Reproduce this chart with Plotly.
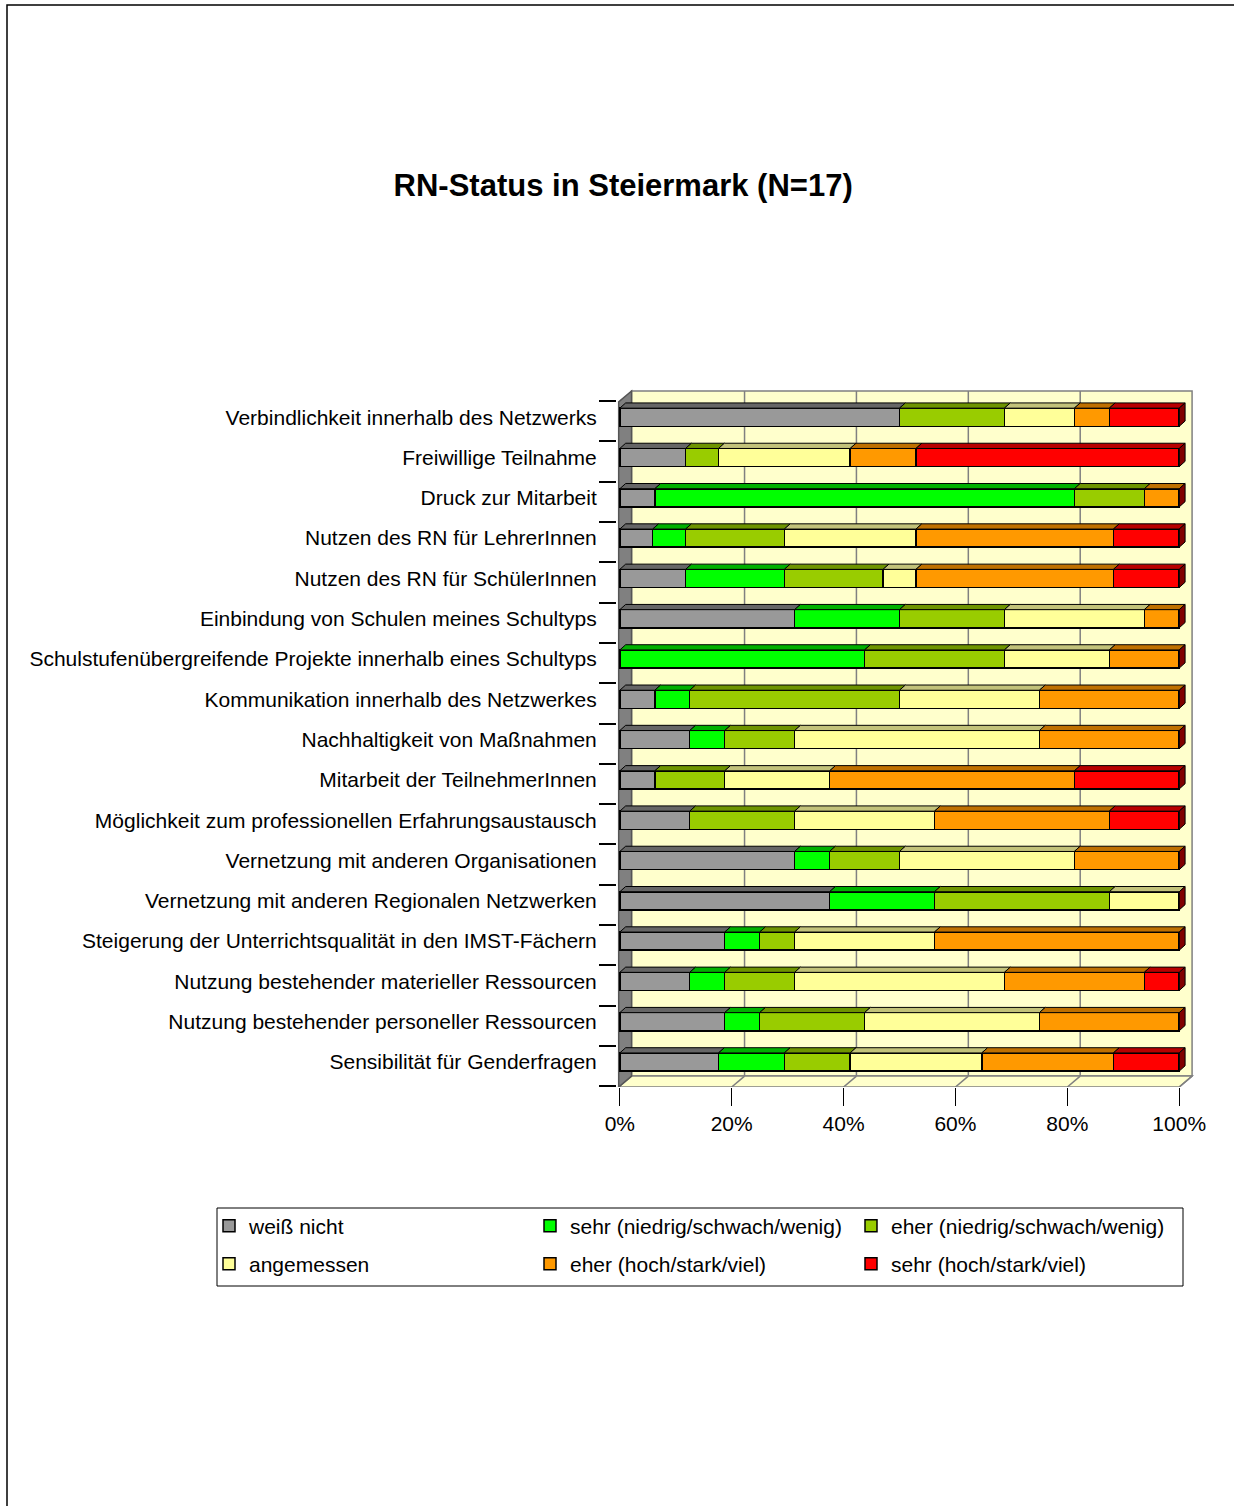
import numpy as np
import plotly.graph_objects as go

# Survey items, listed top to bottom
categories = [
    "Verbindlichkeit innerhalb des Netzwerks",
    "Freiwillige Teilnahme",
    "Druck zur Mitarbeit",
    "Nutzen des RN für LehrerInnen",
    "Nutzen des RN für SchülerInnen",
    "Einbindung von Schulen meines Schultyps",
    "Schulstufenübergreifende Projekte innerhalb eines Schultyps",
    "Kommunikation innerhalb des Netzwerkes",
    "Nachhaltigkeit von Maßnahmen",
    "Mitarbeit der TeilnehmerInnen",
    "Möglichkeit zum professionellen Erfahrungsaustausch",
    "Vernetzung mit anderen Organisationen",
    "Vernetzung mit anderen Regionalen Netzwerken",
    "Steigerung der Unterrichtsqualität in den IMST-Fächern",
    "Nutzung bestehender materieller Ressourcen",
    "Nutzung bestehender personeller Ressourcen",
    "Sensibilität für Genderfragen",
]

series_names = [
    "weiß nicht",
    "sehr (niedrig/schwach/wenig)",
    "eher (niedrig/schwach/wenig)",
    "angemessen",
    "eher (hoch/stark/viel)",
    "sehr (hoch/stark/viel)",
]

# Number of answers per item and category
weiss_nicht  = [8, 2, 1, 1, 2, 5, 0, 1, 2, 1, 2, 5, 6, 3, 2, 3, 3]
sehr_niedrig = [0, 0, 12, 1, 3, 3, 7, 1, 1, 0, 0, 1, 3, 1, 1, 1, 2]
eher_niedrig = [3, 1, 2, 3, 3, 3, 4, 6, 2, 2, 3, 2, 5, 1, 2, 3, 2]
angemessen   = [2, 4, 0, 4, 1, 4, 3, 4, 7, 3, 4, 5, 2, 4, 6, 5, 4]
eher_hoch    = [1, 2, 1, 6, 6, 1, 2, 4, 4, 7, 5, 3, 0, 7, 4, 4, 4]
sehr_hoch    = [2, 8, 0, 2, 2, 0, 0, 0, 0, 3, 2, 0, 0, 0, 1, 0, 2]

x_ticks = [0, 20, 40, 60, 80, 100]
x_tick_labels = ["0%", "20%", "40%", "60%", "80%", "100%"]

series_counts = [weiss_nicht, sehr_niedrig, eher_niedrig, angemessen, eher_hoch, sehr_hoch]
face_colors = ["#999999", "#00FF00", "#99CC00", "#FFFF99", "#FF9900", "#FF0000"]
top_colors = ["#666666", "#00B000", "#6E9400", "#C2C27A", "#BF7000", "#B80000"]
END_COLOR = "#800000"
WALL_COLOR = "#FFFFCC"
FONT = "Liberation Sans, Arial, sans-serif"

counts = np.array(series_counts, dtype=float)          # (series, items)
totals = counts.sum(axis=0)
pct = counts / totals * 100.0
cum_right = np.cumsum(pct, axis=0)
cum_left = cum_right - pct

y_idx = np.arange(len(categories))

# geometry of the pseudo-3D frame (data units)
BAR_W = 0.45
BDX, BDY = 1.05, 0.13        # bar depth
WDX, WDY = 2.3, 0.27         # wall depth
X0 = -0.2                    # front edge of the side wall
YF = 16.62                   # front edge of the floor
YT = -0.38                   # top front corner of the side wall

# plot-area pixel frame, used to place legend rows and the legend box
PLOT_L, PLOT_W, PLOT_T, PLOT_H = 617, 579, 385, 702
FIG_W, FIG_H = 1234, 1506


def px_x(px):
    return (px - PLOT_L) / PLOT_W


def px_y(py):
    return (PLOT_T + PLOT_H - py) / PLOT_H


fig = go.Figure()

for k, (name, p, face) in enumerate(zip(series_names, pct, face_colors)):
    fig.add_trace(go.Bar(
        y=y_idx, x=p, orientation="h", name=name, width=BAR_W,
        marker=dict(color=face, line=dict(color="black", width=1.5)),
        hoverinfo="skip", legend="legend" if k < 3 else "legend2",
    ))

# top faces of each segment
for s, col in enumerate(top_colors):
    xs, ys = [], []
    for i in y_idx:
        if pct[s, i] <= 0:
            continue
        l, r = cum_left[s, i], cum_right[s, i]
        yt = i - BAR_W / 2
        xs += [l, r, r + BDX, l + BDX, l, None]
        ys += [yt, yt, yt - BDY, yt - BDY, yt, None]
    fig.add_trace(go.Scatter(
        x=xs, y=ys, mode="lines", fill="toself", fillcolor=col,
        line=dict(color="black", width=1), showlegend=False, hoverinfo="skip",
    ))

# end faces on the right side of every bar
xs, ys = [], []
for i in y_idx:
    r = cum_right[-1, i]
    yt, yb = i - BAR_W / 2, i + BAR_W / 2
    xs += [r, r + BDX, r + BDX, r, r, None]
    ys += [yt, yt - BDY, yb - BDY, yb, yt, None]
fig.add_trace(go.Scatter(
    x=xs, y=ys, mode="lines", fill="toself", fillcolor=END_COLOR,
    line=dict(color="black", width=1), showlegend=False, hoverinfo="skip",
))


# walls, floor and gridlines
def poly(points):
    return "M " + " L ".join(f"{x},{y}" for x, y in points) + " Z"


shapes = [
    dict(type="path", xref="x", yref="y", layer="below",
         path=poly([(X0 + WDX, YT - WDY), (100 + WDX, YT - WDY),
                    (100 + WDX, YF - WDY), (X0 + WDX, YF - WDY)]),
         fillcolor=WALL_COLOR, line=dict(color="#808080", width=1.5)),
    dict(type="path", xref="x", yref="y", layer="below",
         path=poly([(X0, YF), (100, YF), (100 + WDX, YF - WDY), (X0 + WDX, YF - WDY)]),
         fillcolor=WALL_COLOR, line=dict(color="#808080", width=1.5)),
    dict(type="path", xref="x", yref="y", layer="below",
         path=poly([(X0, YT), (X0 + WDX, YT - WDY), (X0 + WDX, YF - WDY), (X0, YF)]),
         fillcolor="#808080", line=dict(color="#555555", width=1.5)),
]
for v in x_ticks[1:-1]:
    shapes.append(dict(type="line", xref="x", yref="y", layer="below",
                       x0=v + WDX, x1=v + WDX, y0=YT - WDY, y1=YF - WDY,
                       line=dict(color="#808080", width=1.5)))
for v in x_ticks[1:]:
    shapes.append(dict(type="line", xref="x", yref="y", layer="below",
                       x0=v, x1=v + WDX, y0=YF, y1=YF - WDY,
                       line=dict(color="#808080", width=1.5)))
# legend box
shapes.append(dict(type="rect", xref="paper", yref="paper",
                   x0=px_x(217), x1=px_x(1183), y0=px_y(1286), y1=px_y(1208),
                   line=dict(color="black", width=1), fillcolor="white", layer="below"))
# page frame
shapes.append(dict(type="rect", xref="paper", yref="paper",
                   x0=px_x(7), x1=px_x(FIG_W + 20), y0=px_y(FIG_H + 20), y1=px_y(5),
                   line=dict(color="black", width=1.5), fillcolor="rgba(0,0,0,0)"))

legend_common = dict(orientation="h", xanchor="left", yanchor="middle",
                     x=px_x(209), entrywidth=276, entrywidthmode="pixels",
                     bgcolor="rgba(0,0,0,0)", borderwidth=0,
                     font=dict(size=21), traceorder="normal")

fig.update_layout(
    width=FIG_W, height=FIG_H, autosize=False,
    margin=dict(l=PLOT_L, r=FIG_W - PLOT_L - PLOT_W, t=PLOT_T, b=FIG_H - PLOT_T - PLOT_H),
    paper_bgcolor="white", plot_bgcolor="white",
    barmode="stack",
    font=dict(family=FONT, size=21, color="black"),
    title=dict(text="<b>RN-Status in Steiermark (N=17)</b>",
               x=0.505, xref="container", y=1 - 185 / FIG_H, yref="container",
               xanchor="center", yanchor="middle",
               font=dict(family=FONT, size=31, color="black")),
    shapes=shapes,
    xaxis=dict(range=[-0.5, 103], tickmode="array", tickvals=x_ticks,
               ticktext=x_tick_labels, ticks="outside", ticklen=18,
               tickcolor="black", tickwidth=1, showgrid=False, zeroline=False,
               showline=False, tickfont=dict(size=21)),
    yaxis=dict(range=[YF, -0.8], tickmode="array", tickvals=list(y_idx),
               ticktext=categories, ticks="outside", ticklen=15,
               tickcolor="rgba(0,0,0,0)", showgrid=False, zeroline=False,
               showline=False, tickfont=dict(size=21),
               minor=dict(tickmode="array", tickvals=[i - 0.4 for i in range(len(categories) + 1)],
                          ticks="outside", ticklen=17, tickcolor="black", tickwidth=1.5,
                          showgrid=False)),
    legend=dict(legend_common, y=px_y(1226)),
    legend2=dict(legend_common, y=px_y(1264)),
    showlegend=True,
)

fig.write_html("out.html")
